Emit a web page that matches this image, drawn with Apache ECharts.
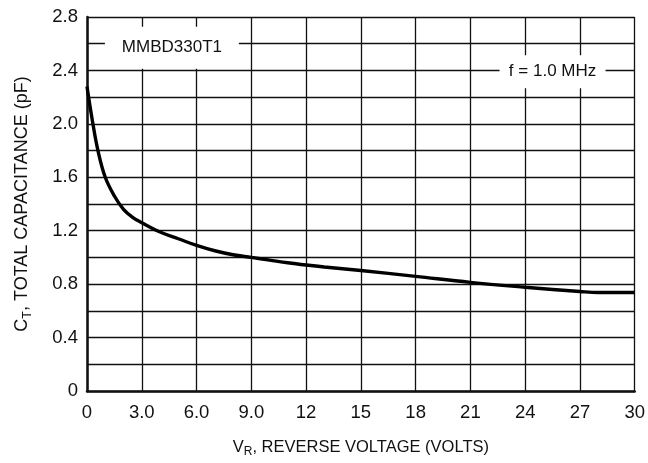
<!DOCTYPE html>
<html>
<head>
<meta charset="utf-8">
<script src="https://cdn.jsdelivr.net/npm/echarts@6/dist/echarts.min.js"></script>
<style>
html,body{margin:0;padding:0;background:#fff;}
#chart{width:648px;height:463px;}
</style>
</head>
<body>
<div id="chart"></div>
<script>
// Reverse voltage (V)
const voltage = [0, 0.3, 0.6, 1.0, 1.5, 2.0, 2.5, 3.0, 4.0, 5.0, 6.0, 7.0, 8.0, 9.0, 10, 11, 12, 13, 15, 18, 21, 24, 27, 28, 30];
// Total capacitance (pF)
const capacitance = [2.28, 2.02, 1.80, 1.60, 1.46, 1.36, 1.30, 1.26, 1.19, 1.14, 1.09, 1.05, 1.02, 1.00, 0.98, 0.96, 0.943, 0.928, 0.902, 0.858, 0.813, 0.777, 0.745, 0.737, 0.737];
// Tick labels
const xTickValues = [0, 3, 6, 9, 12, 15, 18, 21, 24, 27, 30];
const xTickLabels = ['0', '3.0', '6.0', '9.0', '12', '15', '18', '21', '24', '27', '30'];
const yTickValues = [0, 0.4, 0.8, 1.2, 1.6, 2.0, 2.4, 2.8];
const yTickLabels = ['0', '0.4', '0.8', '1.2', '1.6', '2.0', '2.4', '2.8'];
// Annotations
const deviceLabel = 'MMBD330T1';
const deviceAt = [4.65, 2.57];
const freqLabel = 'f = 1.0 MHz';
const freqAt = [25.5, 2.39];

const FONT = '"Liberation Sans", Arial, sans-serif';
const INK = '#111';

function lookup(values, labels, v) {
  for (let i = 0; i < values.length; i++) {
    if (Math.abs(values[i] - v) < 1e-6) return labels[i];
  }
  return '';
}

const chart = echarts.init(document.getElementById('chart'), null, {renderer: 'canvas'});
chart.setOption({
  animation: false,
  backgroundColor: '#fff',
  grid: {left: 87, right: 13, top: 17, bottom: 61, containLabel: false},
  xAxis: {
    type: 'value', min: 0, max: 30, interval: 3,
    axisLine: {show: true, onZero: false, lineStyle: {color: INK, width: 2.5}},
    axisTick: {show: false},
    splitLine: {show: true, lineStyle: {color: INK, width: 1.3}},
    axisLabel: {
      margin: 12, color: INK, fontFamily: FONT, fontSize: 18.5,
      formatter: v => lookup(xTickValues, xTickLabels, v)
    },
    name: '{main|V}{sub|R}{main|, REVERSE VOLTAGE (VOLTS)}',
    nameLocation: 'middle', nameGap: 45,
    nameTextStyle: {
      rich: {
        main: {fontFamily: FONT, fontSize: 16.5, color: INK},
        sub: {fontFamily: FONT, fontSize: 12, color: INK, padding: [10, 0, 0, 0]}
      }
    }
  },
  yAxis: {
    type: 'value', min: 0, max: 2.8, interval: 0.2,
    axisLine: {show: true, onZero: false, lineStyle: {color: INK, width: 2.5}},
    axisTick: {show: false},
    splitLine: {show: true, lineStyle: {color: INK, width: 1.3}},
    axisLabel: {
      margin: 9, color: INK, fontFamily: FONT, fontSize: 18.5,
      padding: [7, 0, 0, 0],
      formatter: v => lookup(yTickValues, yTickLabels, v)
    },
    name: '{main|C}{sub|T}{main|, TOTAL CAPACITANCE (pF)}',
    nameLocation: 'middle', nameGap: 53, nameRotate: 90,
    nameTextStyle: {
      rich: {
        main: {fontFamily: FONT, fontSize: 18, color: INK},
        sub: {fontFamily: FONT, fontSize: 12.5, color: INK, padding: [10, 0, 0, 0]}
      }
    }
  },
  series: [{
    type: 'line',
    data: voltage.map((v, i) => [v, capacitance[i]]),
    smooth: 0.4,
    showSymbol: false,
    lineStyle: {color: '#000', width: 3.4},
    z: 5,
    markPoint: {
      silent: true,
      data: [
        {coord: deviceAt, symbol: 'rect', symbolSize: [134, 42],
         itemStyle: {color: '#fff'},
         label: {show: true, formatter: deviceLabel, color: INK, fontFamily: FONT, fontSize: 17}},
        {coord: freqAt, symbol: 'rect', symbolSize: [106, 33],
         itemStyle: {color: '#fff'},
         label: {show: true, formatter: freqLabel, color: INK, fontFamily: FONT, fontSize: 17}}
      ]
    }
  }]
});
</script>
</body>
</html>
